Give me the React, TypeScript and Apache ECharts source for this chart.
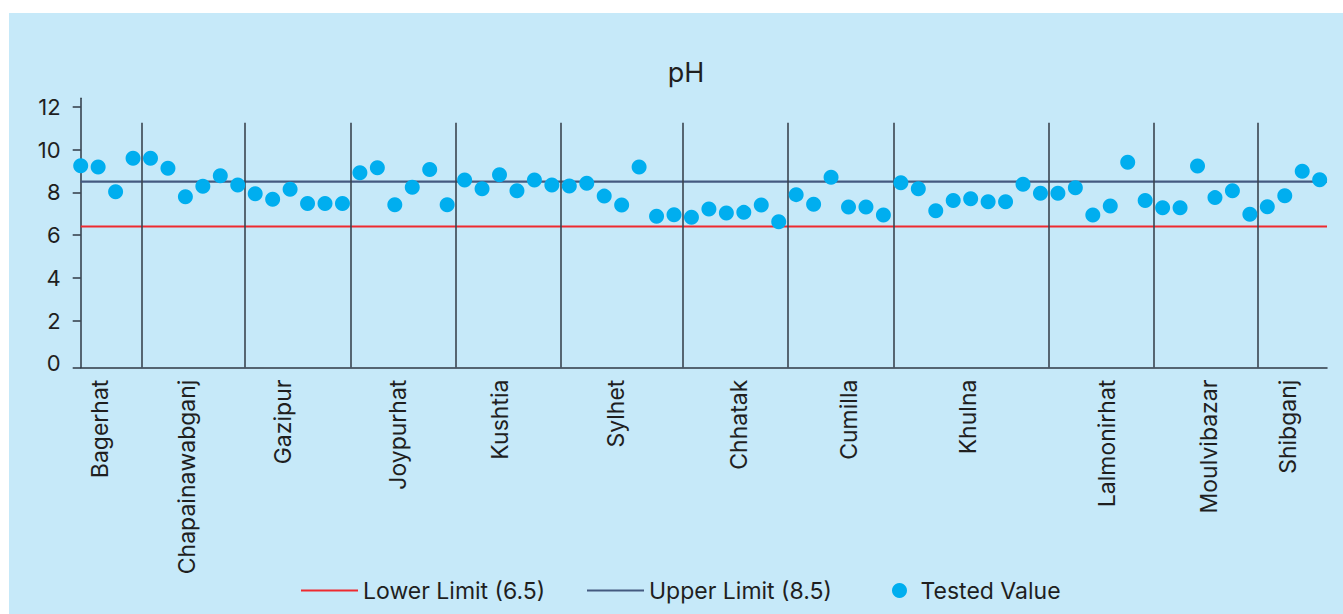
import React, { useEffect, useRef } from "react";
import * as echarts from "echarts";

// Tested pH values, in sample order
const values = [
  9.24, 9.18, 8.03, 9.59, 9.59, 9.12, 7.79, 8.28, 8.77, 8.34,
  7.93, 7.67, 8.14, 7.48, 7.48, 7.48, 8.91, 9.15, 7.42, 8.23,
  9.07, 7.42, 8.57, 8.17, 8.82, 8.07, 8.57, 8.34, 8.29, 8.42,
  7.82, 7.4, 9.18, 6.88, 6.95, 6.83, 7.22, 7.03, 7.06, 7.4,
  6.62, 7.89, 7.44, 8.7, 7.31, 7.31, 6.94, 8.45, 8.17, 7.14,
  7.62, 7.7, 7.56, 7.56, 8.37, 7.95, 7.95, 8.21, 6.94, 7.36,
  9.4, 7.62, 7.28, 7.28, 9.23, 7.75, 8.07, 6.97, 7.32, 7.84,
  8.98, 8.59,
];

// Location names and where their labels sit (sample-index units)
const locations = [
  "Bagerhat", "Chapainawabganj", "Gazipur", "Joypurhat", "Kushtia", "Sylhet",
  "Chhatak", "Cumilla", "Khulna", "Lalmonirhat", "Moulvibazar", "Shibganj",
];
const labelPositions = [1.1, 6.1, 11.6, 18.2, 24.0, 30.7, 37.7, 44.0, 50.85, 58.8, 64.65, 69.2];

// Group separators between locations (sample-index units)
const separators = [3.5, 9.4, 15.5, 21.5, 27.5, 34.5, 40.5, 46.6, 55.5, 61.5, 67.45];
const separatorTop = 11.25;

const lowerLimit = 6.4; // drawn position of the 6.5 limit line
const upperLimit = 8.5;

const yTickValues = [-0.2, 2, 4, 6, 8, 10, 12];
const yLabelValues = [0, 2, 4, 6, 8, 10, 12];

const X_MIN = 0;
const X_MAX = 71.42;
const Y_MIN = -0.2;
const Y_MAX = 12.4;

const FONT = "Inter";
const TEXT = "#1f1f1f";
const AXIS = "#2f3944";
const LINE_ICON = "path://M0 0H57V2.2H0Z";

export default function App() {
  const ref = useRef<HTMLDivElement>(null);

  useEffect(() => {
    if (!ref.current) return;
    const chart = echarts.init(ref.current, null, { renderer: "svg" });

    const sepData = separators.map((x) => [
      { coord: [x, separatorTop] },
      { coord: [x, Y_MIN] },
    ]);

    const legendText = { fontSize: 23, color: TEXT, fontFamily: FONT };

    chart.setOption({
      animation: false,
      backgroundColor: "#c6e9f9",
      textStyle: { fontFamily: FONT },
      title: {
        text: "pH",
        left: 672,
        textAlign: "center",
        top: 41,
        textStyle: { fontSize: 27, fontWeight: "normal", color: TEXT, fontFamily: FONT },
      },
      legend: [
        {
          data: [{ name: "Lower Limit (6.5)", icon: LINE_ICON }],
          left: 287,
          top: 561,
          itemWidth: 57,
          itemHeight: 14,
          textStyle: legendText,
        },
        {
          data: [{ name: "Upper Limit (8.5)", icon: LINE_ICON }],
          left: 573,
          top: 561,
          itemWidth: 57,
          itemHeight: 14,
          textStyle: legendText,
        },
        {
          data: [{ name: "Tested Value", icon: "circle" }],
          left: 878,
          top: 561,
          itemWidth: 32,
          itemHeight: 15,
          textStyle: legendText,
        },
      ],
      grid: { left: 71.7, right: 16, top: 85.2, bottom: 246.4 },
      xAxis: {
        type: "value",
        min: X_MIN,
        max: X_MAX,
        axisLine: { show: true, onZero: false, lineStyle: { color: AXIS, width: 1.5 } },
        axisTick: { show: false },
        splitLine: { show: false },
        axisLabel: {
          customValues: labelPositions,
          rotate: 90,
          margin: 12,
          fontSize: 23,
          color: TEXT,
          fontFamily: FONT,
          formatter: (v: number) => {
            const i = labelPositions.indexOf(v);
            return i >= 0 ? locations[i] : "";
          },
        },
      },
      yAxis: {
        type: "value",
        min: Y_MIN,
        max: Y_MAX,
        axisLine: { show: true, onZero: false, lineStyle: { color: AXIS, width: 1.5 } },
        axisTick: {
          show: true,
          length: 8,
          customValues: yTickValues,
          lineStyle: { color: AXIS, width: 1.5 },
        },
        axisLabel: {
          customValues: yLabelValues,
          margin: 20,
          fontSize: 22,
          color: TEXT,
          fontFamily: FONT,
        },
        splitLine: { show: false },
      },
      series: [
        {
          name: "Lower Limit (6.5)",
          type: "line",
          symbol: "none",
          data: [[X_MIN, lowerLimit], [X_MAX, lowerLimit]],
          lineStyle: { color: "#ee2a30", width: 2.2 },
          itemStyle: { color: "#ee2a30" },
          z: 2,
          silent: true,
        },
        {
          name: "Upper Limit (8.5)",
          type: "line",
          symbol: "none",
          data: [[X_MIN, upperLimit], [X_MAX, upperLimit]],
          lineStyle: { color: "#445a80", width: 2.2 },
          itemStyle: { color: "#445a80" },
          z: 2,
          silent: true,
          markLine: {
            silent: true,
            symbol: "none",
            label: { show: false },
            lineStyle: { color: "#3a4450", width: 1.6, type: "solid" },
            data: sepData,
          },
        },
        {
          name: "Tested Value",
          type: "scatter",
          symbol: "circle",
          symbolSize: 15,
          clip: false,
          data: values.map((v, i) => [i, v]),
          itemStyle: { color: "#00aeef", opacity: 1 },
          z: 5,
        },
      ],
    });

    return () => chart.dispose();
  }, []);

  return (
    <div
      ref={ref}
      style={{ position: "fixed", left: 9, top: 13, width: 1334, height: 601 }}
    />
  );
}
